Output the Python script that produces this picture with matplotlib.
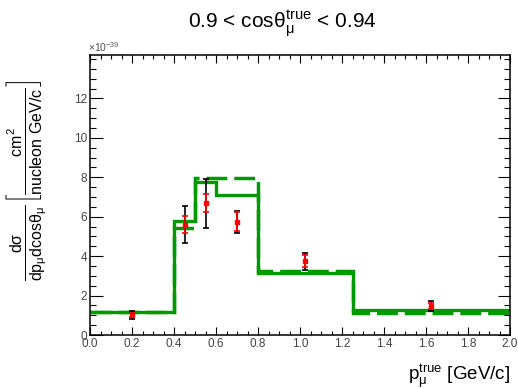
import numpy as np
import matplotlib
matplotlib.use("Agg")
import matplotlib.pyplot as plt
from matplotlib.ticker import MultipleLocator, FixedLocator

plt.rcParams["font.family"] = ["Liberation Sans", "DejaVu Sans"]
plt.rcParams["mathtext.fontset"] = "custom"
plt.rcParams["mathtext.rm"] = "Liberation Sans"
plt.rcParams["mathtext.it"] = "Liberation Sans"
plt.rcParams["mathtext.bf"] = "Liberation Sans:bold"
plt.rcParams["mathtext.sf"] = "Liberation Sans"

# p_mu bins [GeV/c]; cross sections in 1e-39 cm^2 / nucleon / (GeV/c)
edges = [0.0, 0.4, 0.5, 0.6, 0.8, 1.25, 2.0]
model_solid = [1.15, 5.78, 7.75, 7.10, 3.12, 1.27]
model_dashed = [1.15, 5.45, 7.98, 7.98, 3.27, 1.12]

centers = [0.2, 0.45, 0.55, 0.7, 1.025, 1.625]
xsec = [1.02, 5.60, 6.68, 5.75, 3.74, 1.48]
err_tot = [0.22, 0.95, 1.24, 0.56, 0.42, 0.25]
err_stat = [0.10, 0.43, 0.45, 0.49, 0.31, 0.15]

GREEN = "#009900"

fig = plt.figure(figsize=(5.18, 3.89), dpi=100)
ax = fig.add_axes([90 / 518, 1 - 335 / 389, 420 / 518, 280 / 389])

ax.stairs(model_dashed, edges, baseline=None, color=GREEN, lw=2.5,
          linestyle=(0, (6, 2)), capstyle="butt", joinstyle="miter")
ax.stairs(model_solid, edges, baseline=None, color=GREEN, lw=2.4,
          joinstyle="miter")

ax.errorbar(centers, xsec, yerr=err_tot, fmt="none", ecolor="black",
            elinewidth=1.2, capsize=2.5, capthick=1.2, zorder=3)
ax.errorbar(centers, xsec, yerr=err_stat, fmt="s", color="red", ms=3,
            elinewidth=1.2, capsize=2, capthick=1.2, zorder=4)

ax.set_xlim(0, 2.0)
ax.set_ylim(0, 14.2)
ax.xaxis.set_major_locator(MultipleLocator(0.2))
ax.xaxis.set_minor_locator(MultipleLocator(0.05))
ax.yaxis.set_major_locator(FixedLocator([0, 2, 4, 6, 8, 10, 12]))
ax.yaxis.set_minor_locator(MultipleLocator(0.5))
ax.xaxis.set_major_formatter(lambda v, p: f"{v:.1f}")
ax.yaxis.set_major_formatter(lambda v, p: f"{v:.0f}")

ax.tick_params(which="both", direction="in", top=True, right=True,
               width=0.8, labelsize=8.5, labelcolor="#444444", pad=2)
ax.tick_params(axis="x", which="major", length=6)
ax.tick_params(axis="x", which="minor", length=3)
ax.tick_params(axis="y", which="major", length=9)
ax.tick_params(axis="y", which="minor", length=4.5)
for s in ax.spines.values():
    s.set_linewidth(1.1)

fig.text(88 / 518, 1 - 47 / 389, r"$\times10^{-39}$", fontsize=7.5,
         color="#555555", ha="left", va="center")

fig.text(282 / 518, 1 - 24 / 389,
         r"0.9 < cos$\mathrm{\theta_{\mu}^{true}}$ < 0.94",
         fontsize=15, ha="center", va="center")

fig.text(510 / 518, 1 - 376 / 389,
         r"$\mathrm{p_{\mu}^{true}}$ [GeV/c]",
         fontsize=13.5, ha="right", va="center")

fig.text(27 / 518, 1 - 180 / 389,
         r"$\frac{d\sigma}{dp_{\mu}dcos\theta_{\mu}}"
         r"\left[\frac{cm^{2}}{nucleon\ GeV/c}\right]$",
         fontsize=16.5, rotation=90, ha="center", va="center")

fig.savefig("out.png", dpi=100)
